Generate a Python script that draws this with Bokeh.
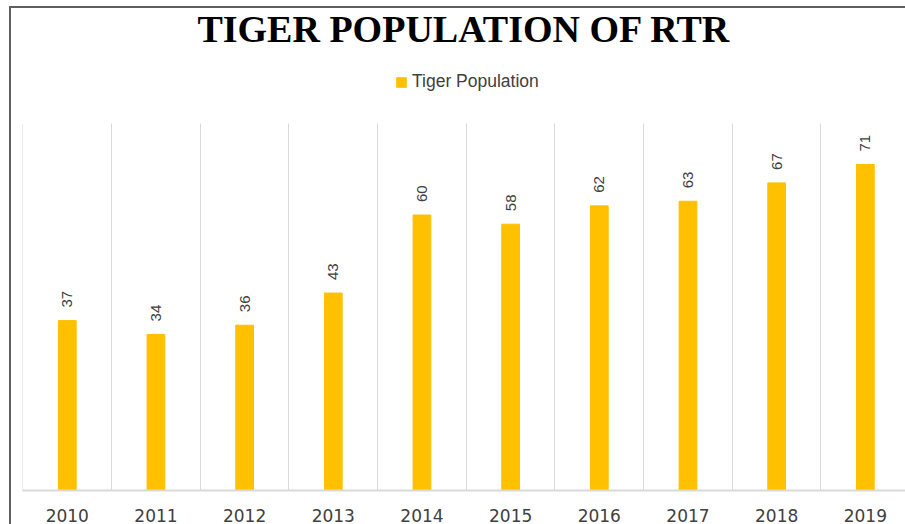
import math
from bokeh.plotting import figure
from bokeh.models import Range1d, FixedTicker, ColumnDataSource, Legend, LegendItem
from bokeh.embed import file_html
from bokeh.resources import INLINE
from bokeh.core.properties import value

years = ["2010", "2011", "2012", "2013", "2014", "2015", "2016", "2017", "2018", "2019"]
population = [37, 34, 36, 43, 60, 58, 62, 63, 67, 71]
xs = list(range(len(years)))
axis_max = 80

src = ColumnDataSource(dict(x=xs, pop=population, label=[str(v) for v in population]))

p = figure(width=905, height=524, output_backend="svg", toolbar_location=None,
           x_range=Range1d(-0.505, 9.453), y_range=Range1d(0, 94.96),
           min_border_left=22, min_border_right=0, min_border_bottom=33, min_border_top=53)
p.border_fill_alpha = 0
p.styles = {"box-shadow": "inset 9px 6px 0px 0px #ffffff, inset 11px 8px 0px 0px #5f5f5f",
            "background-color": "#ffffff"}

p.title.text = "TIGER POPULATION OF RTR"
p.title.align = "center"
p.title.text_font = "Liberation Serif"
p.title.text_font_size = "38px"
p.title.text_font_style = "bold"
p.title.text_color = "#000000"

bars = p.vbar(x="x", top="pop", width=0.2, source=src, fill_color="#FFC000", line_color="#FFC000")

p.text(x="x", y="pop", text="label", source=src, angle=math.pi / 2, text_align="left",
       text_baseline="middle", y_offset=-13, text_font=value("Liberation Sans"),
       text_font_size=value("15px"), text_color="#404040")

legend = Legend(items=[LegendItem(label="Tiger Population", renderers=[bars])],
                location=(373, 398), orientation="horizontal", border_line_color=None,
                background_fill_alpha=0, glyph_width=12, glyph_height=12,
                padding=0, margin=0,
                label_text_font="Liberation Sans", label_text_font_size="17.5px",
                label_text_color="#404040", label_standoff=5)
p.add_layout(legend)

p.yaxis.visible = False
p.ygrid.visible = False
p.xaxis.ticker = FixedTicker(ticks=xs)
p.xaxis.major_label_overrides = {i: y for i, y in zip(xs, years)}
p.xaxis.major_tick_line_color = None
p.xaxis.minor_tick_line_color = None
p.xaxis.axis_line_color = "#d9d9d9"
p.xaxis.axis_line_width = 2
p.xaxis.major_label_text_font = "DejaVu Sans"
p.xaxis.major_label_text_font_size = "17px"
p.xaxis.major_label_text_color = "#404040"
p.xaxis.major_label_standoff = 12

boundaries = [i - 0.5 for i in range(len(years) + 1)]
p.xgrid.ticker = FixedTicker(ticks=boundaries)
p.xgrid.grid_line_color = "#d9d9d9"
p.xgrid.grid_line_width = 1
try:
    p.xgrid.cross_bounds = (0, axis_max)
except AttributeError:
    p.xgrid.visible = False
    p.segment(x0=boundaries, x1=boundaries, y0=0, y1=axis_max, line_color="#d9d9d9", line_width=1,
              level="underlay")
p.outline_line_color = None

open("out.html", "w").write(file_html(p, INLINE))
